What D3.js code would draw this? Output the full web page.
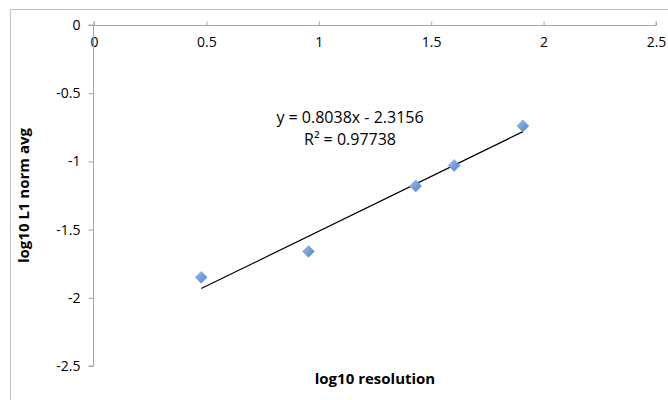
<!DOCTYPE html>
<html>
<head>
<meta charset="utf-8">
<script src="https://cdn.jsdelivr.net/npm/d3@7"></script>
<style>
  html, body { margin: 0; padding: 0; background: #fff; }
  svg { display: block; }
  text { font-family: "Open Sans", sans-serif; fill: #000; }
</style>
</head>
<body>
<svg id="chart" width="668" height="400"></svg>
<script>
// log10 of grid resolution vs log10 of the averaged L1 error norm
const resolution = [0.477, 0.954, 1.431, 1.602, 1.908];
const l1NormAvg = [-1.85, -1.66, -1.18, -1.03, -0.74];
const xTicks = [0, 0.5, 1, 1.5, 2, 2.5];
const yTicks = [0, -0.5, -1, -1.5, -2, -2.5];
const trendSlope = 0.8038;
const trendIntercept = -2.3156;
const rSquared = 0.97738;

const svg = d3.select("#chart");
const W = 668, H = 400;
const plot = { left: 94, right: 656, top: 25, bottom: 366 };
const fontFamily = "'Open Sans', sans-serif";
const plainNumber = d => String(d);

// outer chart frame (left and top edges visible)
svg.append("path")
  .attr("d", `M10.5,${H} V9.5 H${W}`)
  .attr("fill", "none")
  .attr("stroke", "#bfbfbf")
  .attr("stroke-width", 1);

const x = d3.scaleLinear().domain([0, 2.5]).range([plot.left, plot.right]);
const y = d3.scaleLinear().domain([-2.5, 0]).range([plot.bottom, plot.top]);

const axisColor = "#a6a6a6";
const tickFont = 14;

// horizontal axis sits at y = 0 (top); ticks point up, labels below
const gx = svg.append("g")
  .attr("transform", `translate(0,${y(0) + 0.5})`)
  .call(d3.axisTop(x).tickValues(xTicks).tickFormat(plainNumber).tickSizeInner(4).tickSizeOuter(4));
gx.selectAll("path, line").attr("stroke", axisColor);
gx.selectAll("text")
  .attr("y", 12)
  .attr("dy", "0.71em")
  .attr("font-size", tickFont)
  .style("font-family", fontFamily)
  .attr("fill", "#000");
gx.select(".domain").attr("d", `M${plot.left},-4V0H${plot.right}V-4`);

// vertical axis at x = 0
const gy = svg.append("g")
  .attr("transform", `translate(${x(0) - 0.5},0)`)
  .call(d3.axisLeft(y).tickValues(yTicks).tickFormat(plainNumber).tickSizeInner(5).tickSizeOuter(5));
gy.selectAll("path, line").attr("stroke", axisColor);
gy.selectAll("text")
  .attr("x", -13)
  .attr("font-size", tickFont)
  .style("font-family", fontFamily)
  .attr("fill", "#000");
gy.select(".domain").remove();
gy.append("path")
  .attr("d", `M-5,${y(0)}H0V${y(-2.5)}H-5`)
  .attr("fill", "none")
  .attr("stroke", axisColor);

// linear trendline across the data range
const xMin = d3.min(resolution), xMax = d3.max(resolution);
svg.append("line")
  .attr("x1", x(xMin)).attr("y1", y(trendSlope * xMin + trendIntercept))
  .attr("x2", x(xMax)).attr("y2", y(trendSlope * xMax + trendIntercept))
  .attr("stroke", "#000")
  .attr("stroke-width", 1.2);

// diamond markers
const defs = svg.append("defs");
const grad = defs.append("linearGradient").attr("id", "marker-fill")
  .attr("x1", "0").attr("y1", "0").attr("x2", "1").attr("y2", "1");
grad.append("stop").attr("offset", "0%").attr("stop-color", "#9dc0ee");
grad.append("stop").attr("offset", "100%").attr("stop-color", "#4d7fc7");

const diamond = d3.symbol().type(d3.symbolDiamond2).size(90);
svg.append("g").selectAll("path")
  .data(resolution.map((r, i) => [r, l1NormAvg[i]]))
  .join("path")
  .attr("d", diamond)
  .attr("transform", d => `translate(${x(d[0])},${y(d[1])})`)
  .attr("fill", "url(#marker-fill)")
  .attr("stroke", "#6d9ad8")
  .attr("stroke-width", 0.6);

// trendline equation
const eq = svg.append("text")
  .attr("x", 350).attr("y", 123)
  .attr("text-anchor", "middle")
  .attr("font-size", 16);
eq.append("tspan").attr("x", 350).attr("dy", 0)
  .text(`y = ${trendSlope}x - ${Math.abs(trendIntercept)}`);
eq.append("tspan").attr("x", 350).attr("dy", 22)
  .text(`R² = ${rSquared}`);

// axis titles
svg.append("text")
  .attr("x", (plot.left + plot.right) / 2).attr("y", 384)
  .attr("text-anchor", "middle")
  .attr("font-size", 15)
  .attr("font-weight", "bold")
  .text("log10 resolution");

svg.append("text")
  .attr("transform", `translate(29,${(plot.top + plot.bottom) / 2}) rotate(-90)`)
  .attr("text-anchor", "middle")
  .attr("font-size", 15)
  .attr("font-weight", "bold")
  .text("log10 L1 norm avg");
</script>
</body>
</html>
